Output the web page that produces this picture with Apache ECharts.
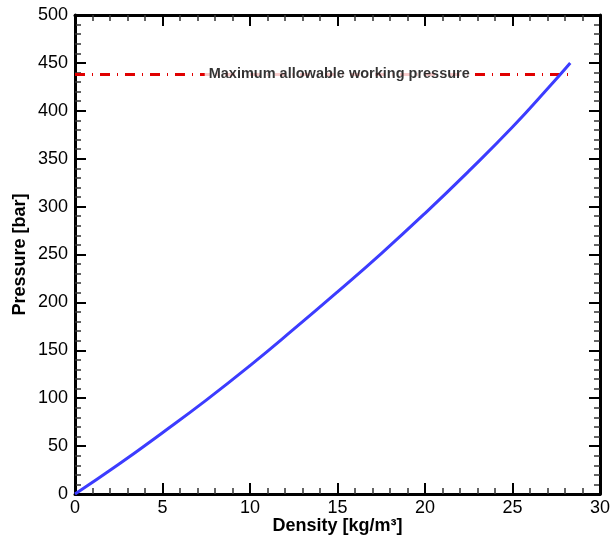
<!DOCTYPE html>
<html>
<head>
<meta charset="utf-8">
<script src="https://cdn.jsdelivr.net/npm/echarts@6/dist/echarts.min.js"></script>
<style>
  html, body { margin: 0; padding: 0; background: #fff; }
</style>
</head>
<body>
<div id="main" style="width:610px;height:540px"></div>
<script>
// 密度 kg/m3 与 压力 bar
var density = [0, 2.5, 5, 7.5, 10, 12.5, 15, 17.5, 20, 22.5, 25, 27, 28.3];
var pressure = [0, 31, 64, 98, 134, 172, 211, 251, 293, 337, 383, 423, 450];
var maxPressure = 438;
var maxLineEnd = 28.2;
var labelText = 'Maximum allowable working pressure';

var dom = document.getElementById('main');
var myChart = echarts.init(dom);

var curve = density.map(function (d, i) { return [d, pressure[i]]; });

// 四边坐标轴公共样式, 刻度朝内 (每次返回新对象)
function makeAxis(extra) {
  var a = {
    type: 'value',
    axisLine: { show: true, onZero: false, lineStyle: { color: '#000', width: 3 } },
    axisTick: { show: true, inside: true, length: 11, lineStyle: { color: '#000', width: 2 } },
    minorTick: { show: true, splitNumber: 5, length: 6, lineStyle: { color: '#333', width: 1.5 } },
    splitLine: { show: false }
  };
  return Object.assign(a, extra);
}

var option = {
  animation: false,
  grid: { left: 75, right: 10, top: 15, bottom: 46, outerBoundsMode: 'none', containLabel: false },
  xAxis: [
    makeAxis({
      min: 0, max: 30, interval: 5,
      position: 'bottom',
      name: 'Density [kg/m³]',
      nameLocation: 'middle',
      nameGap: 23,
      nameMoveOverlap: false,
      nameTextStyle: { fontFamily: 'Liberation Sans', fontWeight: 'bold', fontSize: 18, color: '#000' },
      axisLabel: { fontFamily: 'Liberation Sans', fontSize: 18, color: '#000', margin: 5 }
    }),
    makeAxis({
      min: 0, max: 30, interval: 5,
      position: 'top',
      axisLabel: { show: false }
    })
  ],
  yAxis: [
    makeAxis({
      min: 0, max: 500, interval: 50,
      position: 'left',
      name: 'Pressure [bar]',
      nameLocation: 'middle',
      nameGap: 46,
      nameMoveOverlap: false,
      nameTextStyle: { fontFamily: 'Liberation Sans', fontWeight: 'bold', fontSize: 18, color: '#000' },
      axisLabel: { fontFamily: 'Liberation Sans', fontSize: 18, color: '#000', margin: 7 }
    }),
    makeAxis({
      min: 0, max: 500, interval: 50,
      position: 'right',
      axisLabel: { show: false }
    })
  ],
  series: [
    {
      type: 'line',
      data: [[0, maxPressure], [maxLineEnd, maxPressure]],
      symbol: 'none',
      lineStyle: { color: '#e00000', width: 3, type: [10, 7, 1, 7] },
      z: 2
    },
    {
      type: 'line',
      data: curve,
      smooth: true,
      symbol: 'none',
      lineStyle: { color: '#3c3cff', width: 3 },
      z: 3
    },
    {
      type: 'scatter',
      data: [[15.1, maxPressure]],
      symbolSize: 0,
      itemStyle: { color: '#fff' },
      label: {
        show: true,
        position: 'inside',
        formatter: labelText,
        fontFamily: 'Liberation Sans',
        fontWeight: 'bold',
        fontSize: 14.5,
        color: '#000',
        textBorderWidth: 0,
        backgroundColor: '#fff',
        padding: [1, 4]
      },
      z: 4
    }
  ]
};

if (option && typeof option === 'object') {
  myChart.setOption(option, true);
}
</script>
</body>
</html>
